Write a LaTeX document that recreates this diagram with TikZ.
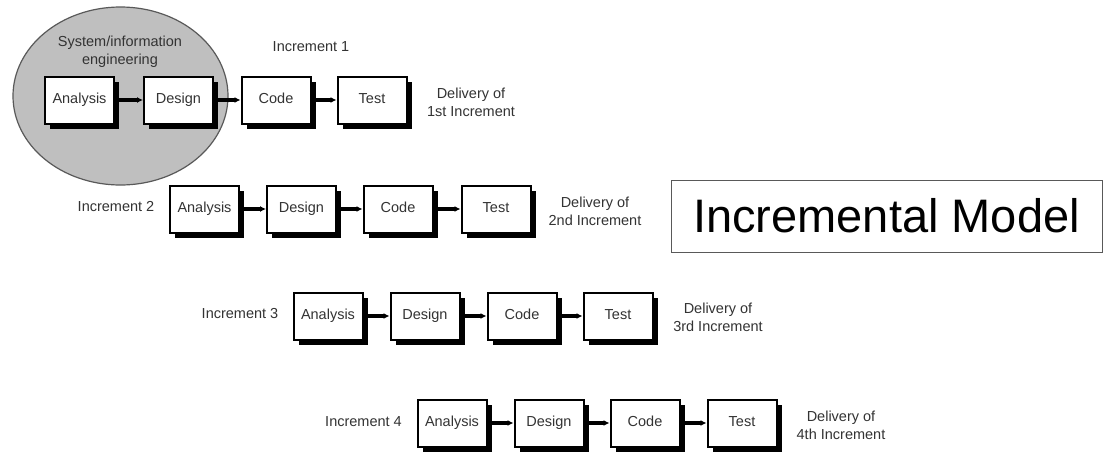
\documentclass[tikz,border=0pt]{standalone}
\usepackage{fontspec}
\setmainfont{Liberation Sans}
\usetikzlibrary{arrows.meta,shadows,shapes.geometric}
\begin{document}
\begin{tikzpicture}[x=1pt,y=-1pt,
  stage/.style={draw=black, line width=2pt, fill=white, minimum width=69pt, minimum height=47pt, inner sep=0pt,
    text height=10pt, text depth=3pt,
    font=\fontsize{14.5}{16}\selectfont, text=black!80,
    drop shadow={shadow xshift=5pt, shadow yshift=-5pt, opacity=1, fill=black}},
  flow/.style={line width=3.5pt, -{Latex[length=6pt,width=6pt]}},
  lbl/.style={font=\fontsize{14.5}{18}\selectfont, text=black!80, align=center, inner sep=0pt},
  sie/.style={ellipse, draw=black!65, line width=1.2pt, fill=black!25, minimum width=215pt, minimum height=178pt, inner sep=0pt},
  titlebox/.style={draw=black!65, line width=1pt, minimum width=431pt, minimum height=72pt, inner sep=0pt,
    font=\fontsize{47}{52}\selectfont, text=black}
]
\useasboundingbox (0,0) rectangle (1106,461);
\fill[white] (0,0) rectangle (1106,461);

% system / information engineering ellipse
\node[sie] (ell) at (120.5,96) {};
\node[lbl] (elltext) at (120,52) {System/information\\engineering};

% Increment 1
\node[lbl] (inc1) at (311,47) {Increment 1};
\node[stage] (a1) at (79.5,100) {Analysis};
\node[stage] (d1) at (178.5,100) {Design};
\node[stage] (c1) at (276,100) {Code};
\node[stage] (t1) at (372,100) {Test};
\node[lbl] (del1) at (471,102) {Delivery of\\1st Increment};
\draw[flow] (a1) -- (d1);
\draw[flow] (d1) -- (c1);
\draw[flow] (c1) -- (t1);

% Increment 2
\node[lbl] (inc2) at (116,207) {Increment 2};
\node[stage] (a2) at (204.5,209) {Analysis};
\node[stage] (d2) at (301.5,209) {Design};
\node[stage] (c2) at (398,209) {Code};
\node[stage] (t2) at (496,209) {Test};
\node[lbl] (del2) at (595,211) {Delivery of\\2nd Increment};
\draw[flow] (a2) -- (d2);
\draw[flow] (d2) -- (c2);
\draw[flow] (c2) -- (t2);

% Increment 3
\node[lbl] (inc3) at (240,314) {Increment 3};
\node[stage] (a3) at (328,316) {Analysis};
\node[stage] (d3) at (425,316) {Design};
\node[stage] (c3) at (522,316) {Code};
\node[stage] (t3) at (618,316) {Test};
\node[lbl] (del3) at (718,317) {Delivery of\\3rd Increment};
\draw[flow] (a3) -- (d3);
\draw[flow] (d3) -- (c3);
\draw[flow] (c3) -- (t3);

% Increment 4
\node[lbl] (inc4) at (363.5,422) {Increment 4};
\node[stage] (a4) at (452,423) {Analysis};
\node[stage] (d4) at (549,423) {Design};
\node[stage] (c4) at (645,423) {Code};
\node[stage] (t4) at (742,423) {Test};
\node[lbl] (del4) at (841,425) {Delivery of\\4th Increment};
\draw[flow] (a4) -- (d4);
\draw[flow] (d4) -- (c4);
\draw[flow] (c4) -- (t4);

% title
\node[titlebox] (title) at (886.5,216) {Incremental Model};
\end{tikzpicture}
\end{document}
